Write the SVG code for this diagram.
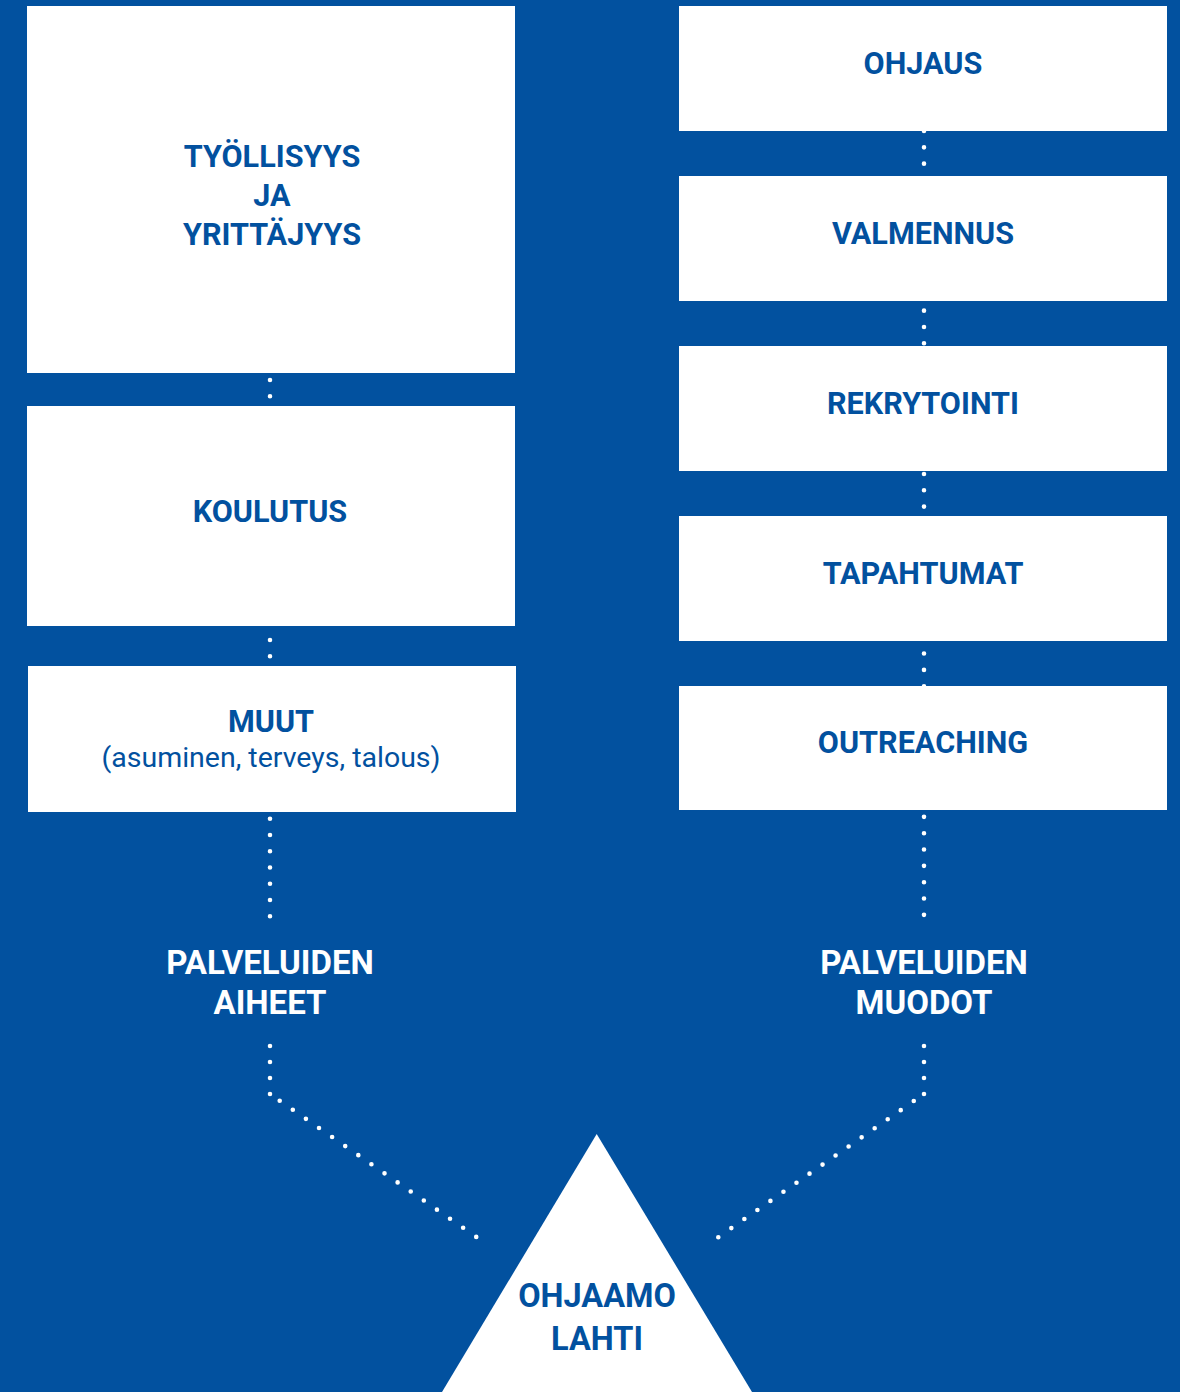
<svg xmlns="http://www.w3.org/2000/svg" width="1180" height="1392" viewBox="0 0 1180 1392">
<style>
.bg{fill:#02519F}
.box{fill:#FFFFFF}
.t{font-family:Roboto,"Liberation Sans",sans-serif;font-weight:700;font-size:30.6px;fill:#02519F;text-anchor:middle}
.s{font-family:Roboto,"Liberation Sans",sans-serif;font-weight:400;font-size:28.5px;fill:#02519F;text-anchor:middle}
.w{font-family:Roboto,"Liberation Sans",sans-serif;font-weight:700;font-size:33px;fill:#FFFFFF;text-anchor:middle}
.b{font-family:Roboto,"Liberation Sans",sans-serif;font-weight:700;font-size:32.5px;fill:#02519F;text-anchor:middle}
.dot{fill:none;stroke:#FFFFFF;stroke-width:4.6;stroke-linecap:round}
</style>
<rect class="bg" x="0" y="0" width="1180" height="1392"/>
<g id="connectors">
<path class="dot" stroke-dasharray="0 16.25" d="M270,380 V917"/>
<path class="dot" stroke-dasharray="0 16.33" d="M924,131 V916"/>
<path class="dot" stroke-dasharray="0 16" d="M270,1046 V1095"/>
<path class="dot" stroke-dasharray="0 15.94" d="M279.7,1100.7 L476.7,1237.2"/>
<path class="dot" stroke-dasharray="0 16" d="M924,1046 V1095"/>
<path class="dot" stroke-dasharray="0 15.88" d="M718.3,1237.2 L914.3,1100.7"/>
</g>
<g id="tyollisyys">
<rect class="box" x="27" y="6" width="488" height="367"/>
<text class="t" x="272" y="167">TYÖLLISYYS</text>
<text class="t" x="272" y="206">JA</text>
<text class="t" x="272" y="245">YRITTÄJYYS</text>
</g>
<g id="koulutus">
<rect class="box" x="27" y="406" width="488" height="220"/>
<text class="t" x="270" y="522">KOULUTUS</text>
</g>
<g id="muut">
<rect class="box" x="28" y="666" width="488" height="146"/>
<text class="t" x="271" y="732">MUUT</text>
<text class="s" x="271" y="767">(asuminen, terveys, talous)</text>
</g>
<g id="ohjaus">
<rect class="box" x="679" y="6" width="488" height="125"/>
<text class="t" x="923" y="74">OHJAUS</text>
</g>
<g id="valmennus">
<rect class="box" x="679" y="176" width="488" height="125"/>
<text class="t" x="923" y="244">VALMENNUS</text>
</g>
<g id="rekrytointi">
<rect class="box" x="679" y="346" width="488" height="125"/>
<text class="t" x="923" y="414">REKRYTOINTI</text>
</g>
<g id="tapahtumat">
<rect class="box" x="679" y="516" width="488" height="125"/>
<text class="t" x="923" y="584">TAPAHTUMAT</text>
</g>
<g id="outreaching">
<rect class="box" x="679" y="686" width="488" height="124"/>
<text class="t" x="923" y="753">OUTREACHING</text>
</g>
<g id="aiheet">
<text class="w" x="270" y="974">PALVELUIDEN</text>
<text class="w" x="270" y="1014">AIHEET</text>
</g>
<g id="muodot">
<text class="w" x="924" y="974">PALVELUIDEN</text>
<text class="w" x="924" y="1014">MUODOT</text>
</g>
<g id="ohjaamo">
<polygon class="box" points="596.7,1134 752,1392 442,1392"/>
<text class="b" x="597" y="1307">OHJAAMO</text>
<text class="b" x="597" y="1350">LAHTI</text>
</g>
</svg>
